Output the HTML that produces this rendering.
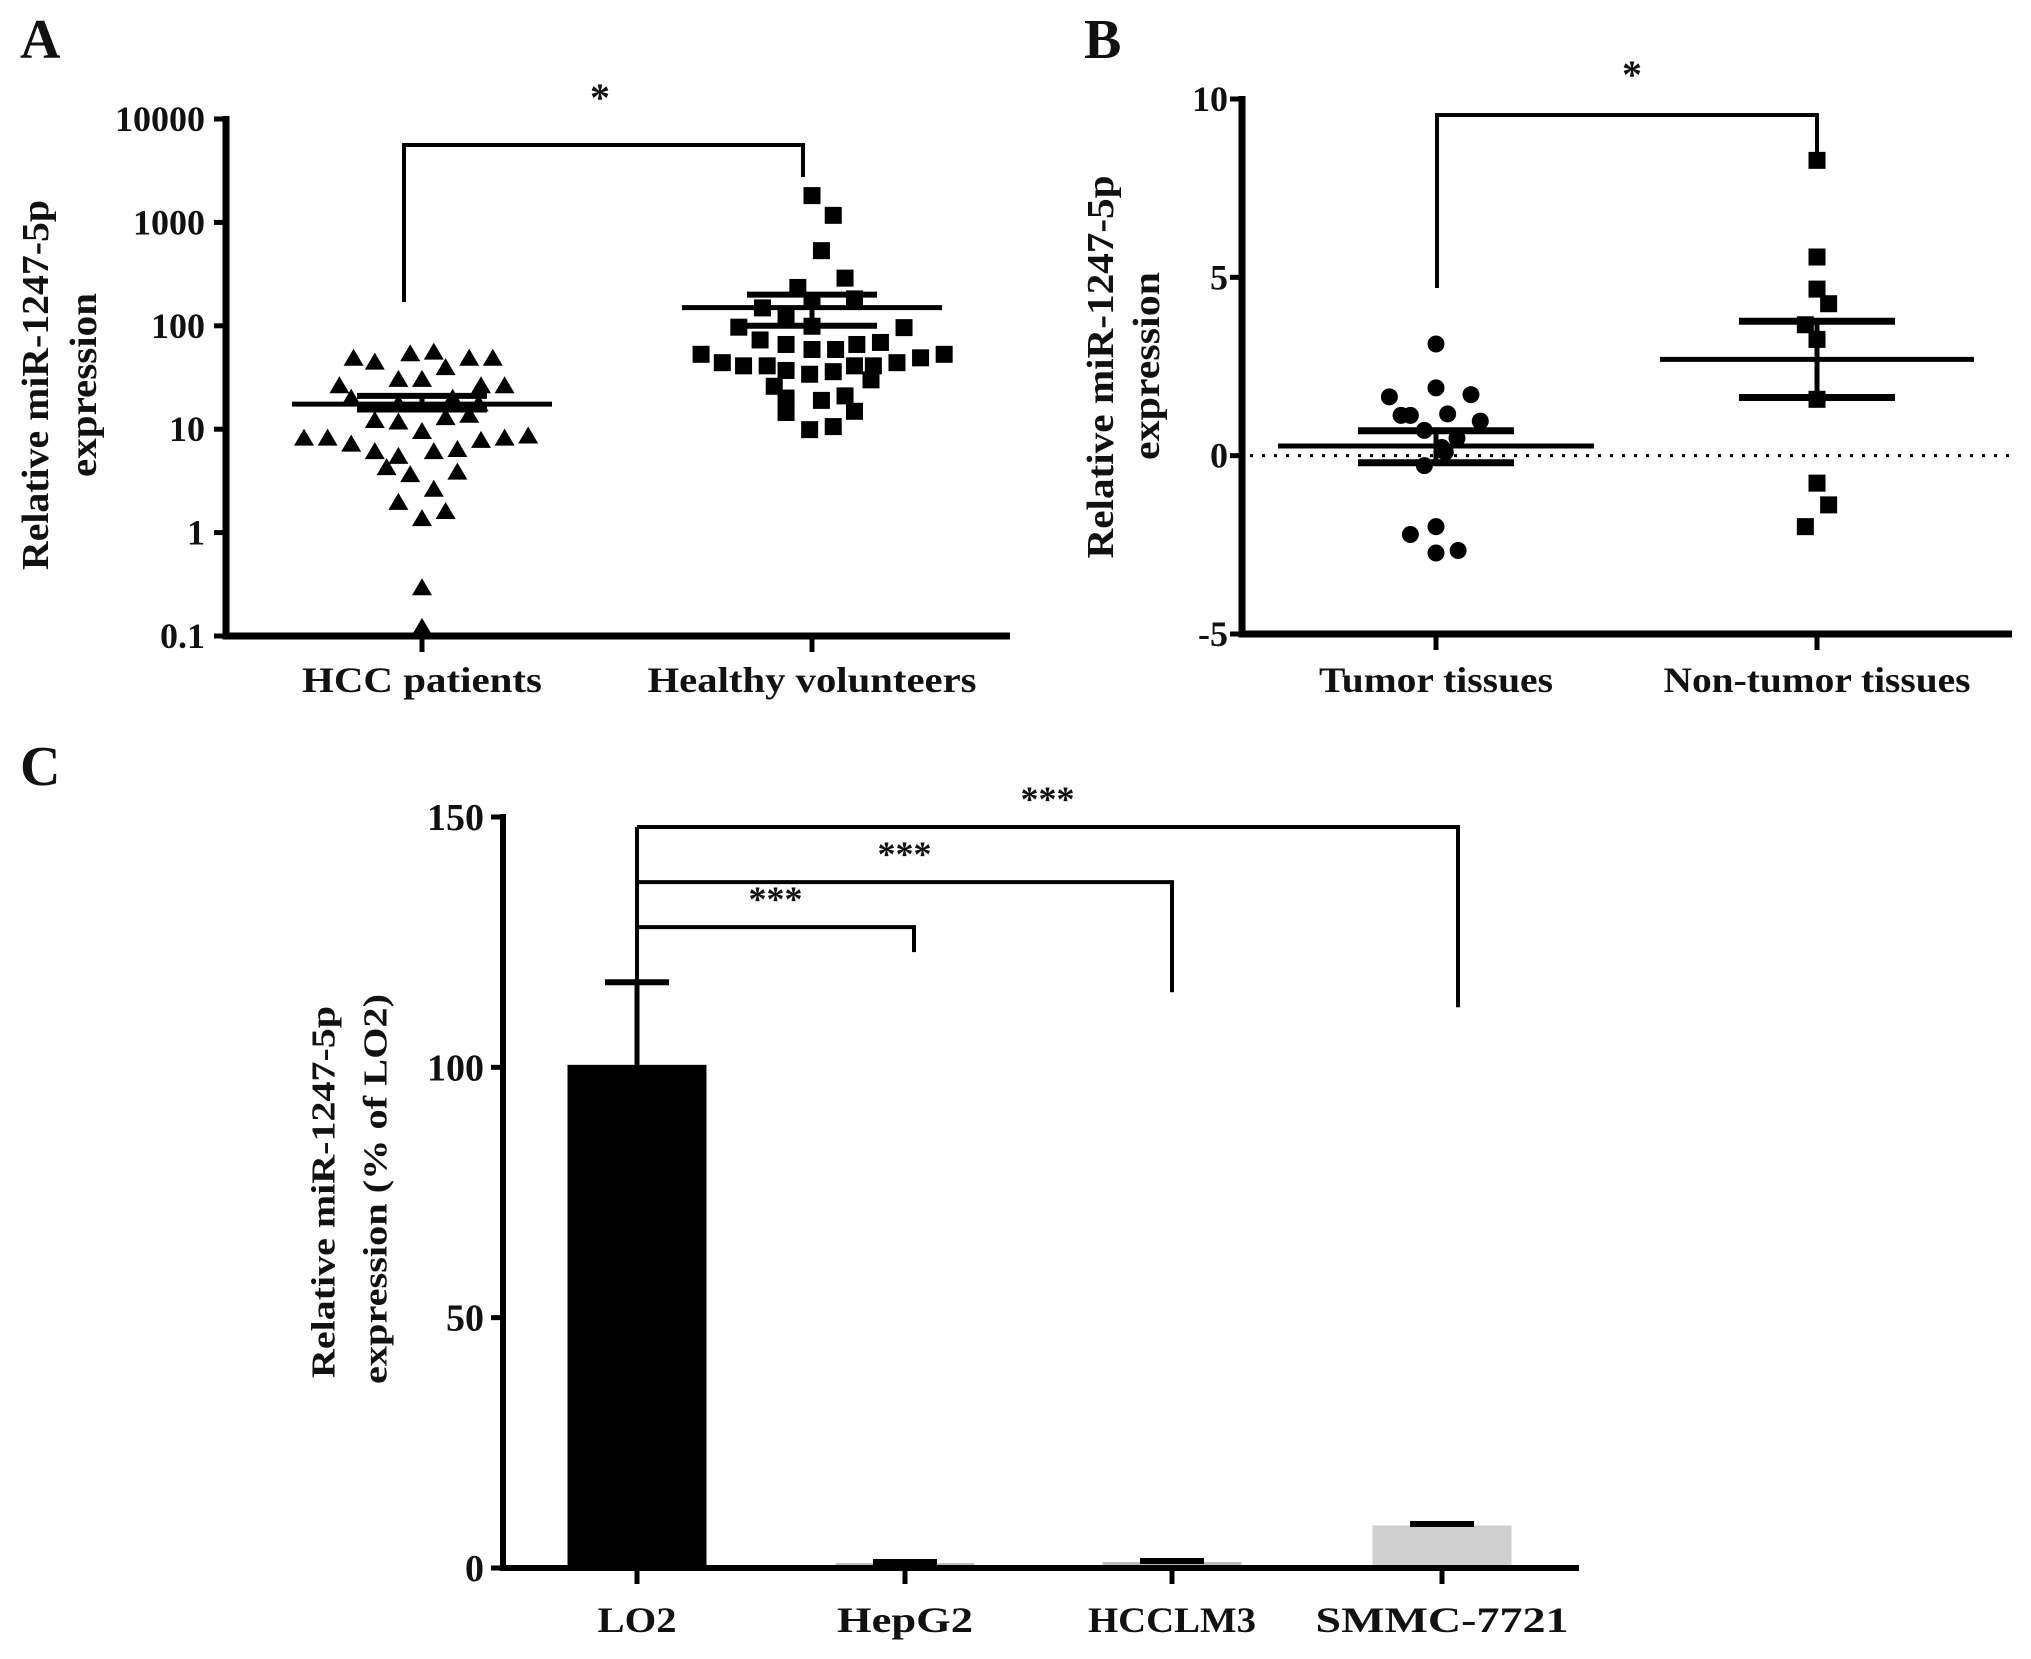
<!DOCTYPE html>
<html><head><meta charset="utf-8"><style>
html,body{margin:0;padding:0;background:#fff}
svg{display:block}
text{font-family:"Liberation Serif",serif;font-weight:bold;fill:#111}
</style></head><body>
<svg id="fig" width="2031" height="1659" viewBox="0 0 2031 1659" xmlns="http://www.w3.org/2000/svg">
<g id="gA"></g>
<g id="gB"></g>
<g id="gC"></g>
</svg>
<script>
// Panel A data (log scale)
const aCategories = ["HCC patients", "Healthy volunteers"];
const aTicks = [0.1, 1, 10, 100, 1000, 10000];
const aTickLabels = ["0.1", "1", "10", "100", "1000", "10000"];
const aHccValues = [48,44,53,55,48,48,26,30,30,39,26,26,12,11.6,9.4,12.8,13.5,8.1,8.1,7.1,6.0,5.4,6.0,6.3,7.7,8.1,8.5,4.2,3.6,3.8,2.6,1.94,1.58,1.35,0.29,0.12,19.7,17.4,19.7,17.4];
const aHccJitter = [-2.9,-2,-0.5,0.5,2,3,-3.5,-1,0,1,2.5,3.5,-2,-1,0,1,2,-5,-4,-3,-2,-1,0.5,1.5,2.5,3.5,4.5,-1.5,-0.5,1.5,0.5,-1,1,0,0,0,-3,-1,1.3,2.4];
const aHealthyValues = [1816,1170,533,289,235,149,173,182,121,97,99,96,73,66,59,59,66,69,53,44,41,41,37,34,36,41,41,44,49,53,26,30,20,19,21,14.5,14.9,9.9,10.6];
const aHealthyJitter = [0,0.9,0.4,1.4,-0.6,-2.1,0,1.8,-1.1,-3.1,0,3.9,-2.2,-1.1,0,1,1.9,2.9,-4.7,-3.8,-2.9,-1.9,-1.1,-0.1,0.9,1.8,2.6,3.6,4.6,5.6,-1.6,2.5,-1.1,0.4,1.4,-1.1,1.8,-0.1,0.9];
const aMeans = [17.5, 150];
const aSemLow = [15.5, 100];
const aSemHigh = [21, 200];

// Panel B data (linear)
const bCategories = ["Tumor tissues", "Non-tumor tissues"];
const bTicks = [-5, 0, 5, 10];
const bTumorValues = [3.13,1.65,1.90,1.71,1.13,1.13,1.17,0.97,0.71,0.49,0.23,0.10,-0.28,-2.21,-1.99,-2.73,-2.66];
const bTumorJitter = [0,-2,0,1.5,-1.5,-1.1,0.5,1.9,-0.5,0.9,0.25,0.4,-0.5,-1.1,0,0,0.95];
const bNonValues = [8.28,5.57,4.67,4.26,3.67,3.26,1.58,-0.77,-1.38,-1.99];
const bNonJitter = [0,0,0,0.5,-0.5,0,0,0,0.5,-0.5];
const bMeans = [0.27, 2.7];
const bSemLow = [-0.2, 1.63];
const bSemHigh = [0.7, 3.77];

// Panel C data (bars)
const cCategories = ["LO2", "HepG2", "HCCLM3", "SMMC-7721"];
const cValues = [100.5, 1.0, 1.2, 8.5];
const cErrors = [16.5, 0.2, 0.2, 0.3];
const cTicks = [0, 50, 100, 150];
const cSigLevels = [128, 137, 148];
const cSigTargets = [1, 2, 3];

const NS = "http://www.w3.org/2000/svg";
function el(parent, tag, attrs, txt){
  const e = document.createElementNS(NS, tag);
  for (const k in attrs) e.setAttribute(k, attrs[k]);
  if (txt !== undefined) e.textContent = txt;
  parent.appendChild(e);
  return e;
}

// ---------- Panel A ----------
(function(){
  const g = document.getElementById('gA');
  const X0 = 226, XEND = 1010, Y0 = 636, YTOP = 119;
  const catX = [422, 812];
  const colUnit = 23.6;
  const y = v => Y0 - (Math.log10(v) - Math.log10(0.1)) / 5 * (Y0 - YTOP);
  let t = el(g,'text',{x:20,y:58,'font-size':56},'A');
  
  
  let ax = el(g,'path',{d:`M${X0},${YTOP-3} V${Y0} H${XEND}`,stroke:'#000','stroke-width':7,fill:'none'});
  
  
  aTicks.forEach((v,i)=>{
    el(g,'line',{x1:X0-12,x2:X0,y1:y(v),y2:y(v),stroke:'#000','stroke-width':5});
    const tl = el(g,'text',{x:205,y:y(v)+12,'font-size':36,'text-anchor':'end'}, aTickLabels[i]);
    
    
  });
  const lw = [240, 329];
  aCategories.forEach((c,i)=>{
    el(g,'line',{x1:catX[i],x2:catX[i],y1:Y0,y2:Y0+16,stroke:'#000','stroke-width':5});
    const tl = el(g,'text',{x:catX[i],y:692,'font-size':36,'text-anchor':'middle',textLength:lw[i],lengthAdjust:'spacingAndGlyphs'}, c);
    
    
  });
  let yt = el(g,'text',{transform:'translate(36,385) rotate(-90)','font-size':38,'text-anchor':'middle','dominant-baseline':'central',textLength:370,lengthAdjust:'spacingAndGlyphs'},'Relative miR-1247-5p');
  
  
  let yt2 = el(g,'text',{transform:'translate(84,385) rotate(-90)','font-size':38,'text-anchor':'middle','dominant-baseline':'central',textLength:184,lengthAdjust:'spacingAndGlyphs'},'expression');
  
  
  aHccValues.forEach((v,i)=>{
    const cx = catX[0] + aHccJitter[i]*colUnit, cy = y(v);
    const p = el(g,'polygon',{points:`${cx},${cy-10} ${cx-10},${cy+7} ${cx+10},${cy+7}`,fill:'#000'});
    
    
  });
  aHealthyValues.forEach((v,i)=>{
    const cx = catX[1] + aHealthyJitter[i]*colUnit, cy = y(v);
    const p = el(g,'rect',{x:cx-8.5,y:cy-8.5,width:17,height:17,fill:'#000'});
    
    
  });
  const mw = [130, 130], sw = [65, 65];
  aMeans.forEach((m,i)=>{
    const ml = el(g,'line',{x1:catX[i]-mw[i],x2:catX[i]+mw[i],y1:y(m),y2:y(m),stroke:'#000','stroke-width':5});
    
    
    el(g,'line',{x1:catX[i]-sw[i],x2:catX[i]+sw[i],y1:y(aSemLow[i]),y2:y(aSemLow[i]),stroke:'#000','stroke-width':6});
    el(g,'line',{x1:catX[i]-sw[i],x2:catX[i]+sw[i],y1:y(aSemHigh[i]),y2:y(aSemHigh[i]),stroke:'#000','stroke-width':6});
    el(g,'line',{x1:catX[i],x2:catX[i],y1:y(aSemLow[i]),y2:y(aSemHigh[i]),stroke:'#000','stroke-width':5});
  });
  let br = el(g,'path',{d:`M404,302 V145 H803 V177`,stroke:'#000','stroke-width':4,fill:'none'});
  
  
  let st = el(g,'text',{x:600,y:111,'font-size':40,'text-anchor':'middle','font-weight':'normal'},'*');
  
  
})();

// ---------- Panel B ----------
(function(){
  const g = document.getElementById('gB');
  const X0 = 1242, XEND = 2012, Y0 = 634, YTOP = 99;
  const catX = [1436, 1817];
  const colUnit = 23.3;
  const y = v => Y0 - (v - (-5)) / 15 * (Y0 - YTOP);
  let t = el(g,'text',{x:1084,y:58,'font-size':56},'B');
  
  
  let ax = el(g,'path',{d:`M${X0},${YTOP-3} V${Y0} H${XEND}`,stroke:'#000','stroke-width':7,fill:'none'});
  
  
  bTicks.forEach(v=>{
    el(g,'line',{x1:X0-12,x2:X0,y1:y(v),y2:y(v),stroke:'#000','stroke-width':5});
    const tl = el(g,'text',{x:1228,y:y(v)+12,'font-size':36,'text-anchor':'end','font-weight':'normal'}, String(v));
    
    
  });
  let dl = el(g,'line',{x1:X0+8,x2:XEND,y1:y(0),y2:y(0),stroke:'#000','stroke-width':3,'stroke-dasharray':'3,9'});
  
  
  const lw = [234, 307];
  bCategories.forEach((c,i)=>{
    el(g,'line',{x1:catX[i],x2:catX[i],y1:Y0,y2:Y0+16,stroke:'#000','stroke-width':5});
    const tl = el(g,'text',{x:catX[i],y:692,'font-size':36,'text-anchor':'middle',textLength:lw[i],lengthAdjust:'spacingAndGlyphs'}, c);
    
    
  });
  let yt = el(g,'text',{transform:'translate(1101,367) rotate(-90)','font-size':38,'text-anchor':'middle','dominant-baseline':'central',textLength:383,lengthAdjust:'spacingAndGlyphs'},'Relative miR-1247-5p');
  
  
  let yt2 = el(g,'text',{transform:'translate(1147,366) rotate(-90)','font-size':38,'text-anchor':'middle','dominant-baseline':'central',textLength:188,lengthAdjust:'spacingAndGlyphs'},'expression');
  
  
  bTumorValues.forEach((v,i)=>{
    const p = el(g,'circle',{cx:catX[0]+bTumorJitter[i]*colUnit,cy:y(v),r:8.5,fill:'#000'});
    
    
  });
  bNonValues.forEach((v,i)=>{
    const cx = catX[1]+bNonJitter[i]*colUnit, cy = y(v);
    const p = el(g,'rect',{x:cx-8.5,y:cy-8.5,width:17,height:17,fill:'#000'});
    
    
  });
  const mw = [158, 157], sw = [78, 78];
  bMeans.forEach((m,i)=>{
    const ml = el(g,'line',{x1:catX[i]-mw[i],x2:catX[i]+mw[i],y1:y(m),y2:y(m),stroke:'#000','stroke-width':5});
    
    
    el(g,'line',{x1:catX[i]-sw[i],x2:catX[i]+sw[i],y1:y(bSemLow[i]),y2:y(bSemLow[i]),stroke:'#000','stroke-width':7});
    el(g,'line',{x1:catX[i]-sw[i],x2:catX[i]+sw[i],y1:y(bSemHigh[i]),y2:y(bSemHigh[i]),stroke:'#000','stroke-width':7});
    el(g,'line',{x1:catX[i],x2:catX[i],y1:y(bSemLow[i]),y2:y(bSemHigh[i]),stroke:'#000','stroke-width':5});
  });
  let br = el(g,'path',{d:`M1437,288 V115 H1817 V152`,stroke:'#000','stroke-width':4,fill:'none'});
  
  
  let st = el(g,'text',{x:1632,y:88,'font-size':40,'text-anchor':'middle','font-weight':'normal'},'*');
  
  
})();

// ---------- Panel C ----------
(function(){
  const g = document.getElementById('gC');
  const X0 = 503, XEND = 1579, Y0 = 1568, YTOP = 817;
  const catX = [637, 905, 1172, 1442];
  const barW = 139;
  const colors = ['#000', '#bdbdbd', '#bdbdbd', '#cfcfcf'];
  const y = v => Y0 - v / 150 * (Y0 - YTOP);
  let t = el(g,'text',{x:20,y:785,'font-size':56},'C');
  
  
  cValues.forEach((v,i)=>{
    const b = el(g,'rect',{x:catX[i]-barW/2,y:y(v),width:barW,height:Y0-y(v),fill:colors[i]});
    
    
    const top = y(v + cErrors[i]);
    el(g,'line',{x1:catX[i],x2:catX[i],y1:y(v),y2:top,stroke:'#000','stroke-width':5});
    const cap = el(g,'line',{x1:catX[i]-32,x2:catX[i]+32,y1:top,y2:top,stroke:'#000','stroke-width':6});
    
    
  });
  let ax = el(g,'path',{d:`M${X0},${YTOP-3} V${Y0} H${XEND}`,stroke:'#000','stroke-width':6,fill:'none'});
  
  
  cTicks.forEach(v=>{
    el(g,'line',{x1:X0-12,x2:X0,y1:y(v),y2:y(v),stroke:'#000','stroke-width':5});
    const tl = el(g,'text',{x:484,y:y(v)+13,'font-size':38,'text-anchor':'end'}, String(v));
    
    
  });
  const lw = [79, 136, 168, 253];
  cCategories.forEach((c,i)=>{
    el(g,'line',{x1:catX[i],x2:catX[i],y1:Y0,y2:Y0+16,stroke:'#000','stroke-width':5});
    const tl = el(g,'text',{x:catX[i],y:1632,'font-size':36,'text-anchor':'middle',textLength:lw[i],lengthAdjust:'spacingAndGlyphs'}, c);
    
    
  });
  let yt = el(g,'text',{transform:'translate(324,1192) rotate(-90)','font-size':34,'text-anchor':'middle','dominant-baseline':'central',textLength:372,lengthAdjust:'spacingAndGlyphs'},'Relative miR-1247-5p');
  
  
  let yt2 = el(g,'text',{transform:'translate(376,1189) rotate(-90)','font-size':34,'text-anchor':'middle','dominant-baseline':'central',textLength:390,lengthAdjust:'spacingAndGlyphs'},'expression (% of LO2)');
  
  
  const drops = [123, 115, 112];
  const endShift = [9, 0, 16];
  const leftBottom = y(cValues[0] + cErrors[0]);
  el(g,'line',{x1:catX[0],x2:catX[0],y1:y(cSigLevels[2]),y2:leftBottom,stroke:'#000','stroke-width':4});
  cSigLevels.forEach((lv,i)=>{
    const tx = catX[cSigTargets[i]] + endShift[i];
    const br = el(g,'path',{d:`M${catX[0]},${y(lv)} H${tx} V${y(drops[i])}`,stroke:'#000','stroke-width':4,fill:'none'});
    
    
    const st = el(g,'text',{x:(catX[0]+tx)/2,y:y(lv)-16,'font-size':36,'text-anchor':'middle','font-weight':'normal'},'***');
    
    
  });
})();
</script>
</body></html>
